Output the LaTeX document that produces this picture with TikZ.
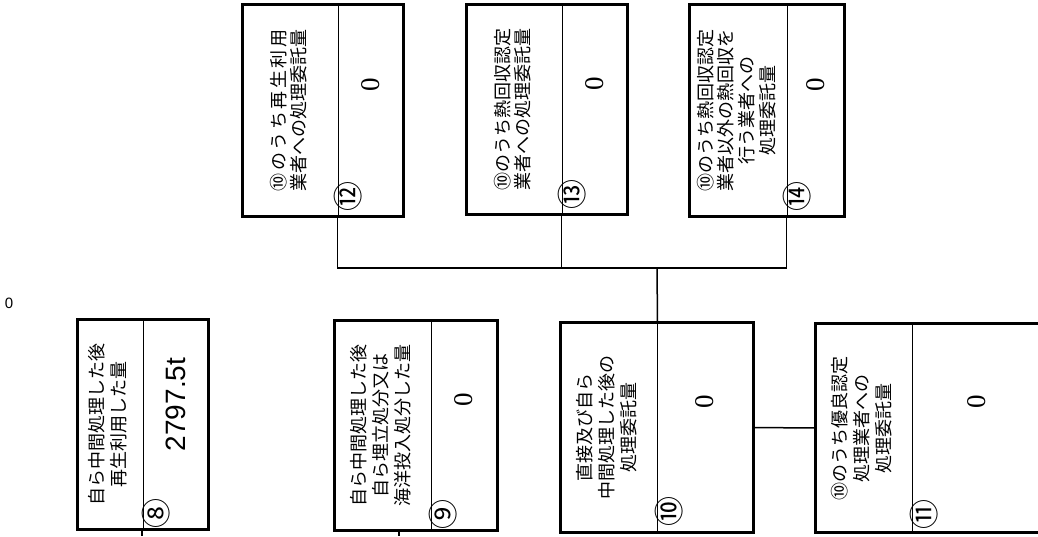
\documentclass[tikz,border=0pt]{standalone}
\usepackage{fontspec}
\setmainfont{Liberation Sans}
\newfontfamily\jpfont{Noto Sans CJK JP}
\newfontfamily\numfont{Liberation Serif}
\usetikzlibrary{positioning}
\tikzset{
  part/.style={draw,line width=1pt,inner sep=0pt},
  frame/.style={draw,line width=2.2pt},
  wire/.style={draw,line width=1.5pt},
  circnum/.style={rotate=90,anchor=west,inner sep=0pt,font=\jpfont\fontsize{30}{30}\selectfont},
}
% rotated label lines, #1 = line pitch
\newcommand{\vlines}[2][22]{\rotatebox{90}{\jpfont\fontsize{18}{#1}\selectfont\begin{tabular}{@{}c@{}}#2\end{tabular}}}
\newcommand{\vnum}[1]{\rotatebox{90}{\numfont\fontsize{27}{27}\selectfont\hspace*{52pt}#1}}

\begin{document}
\begin{tikzpicture}[x=1pt,y=-1pt]
  \useasboundingbox (0,0) rectangle (1038,536);
  \clip (0,0) rectangle (1038,536);

  % upper row
  \node[part,minimum width=95pt,minimum height=211pt] (lab12) at (290.5,110.5)
    {\vlines[17]{\makebox[9em][s]{⑩\hfil の\hfil う\hfil ち\hfil 再\hfil 生\hfil 利\hfil 用}\\業者への処理委託量}};
  \node[part,minimum width=65pt,minimum height=211pt] (val12) at (370.5,110.5) {\vnum{0}};
  \node[part,minimum width=95pt,minimum height=209pt] (lab13) at (514.5,109.5)
    {\vlines[17]{⑩のうち熱回収認定\\業者への処理委託量}};
  \node[part,minimum width=65pt,minimum height=209pt] (val13) at (594.5,109.5) {\vnum{0}};
  \node[part,minimum width=97pt,minimum height=211pt] (lab14) at (738.5,110.5)
    {\vlines[19]{⑩のうち熱回収認定\\業者以外の熱回収を\\行う業者への\\処理委託量}};
  \node[part,minimum width=57pt,minimum height=211pt] (val14) at (815.5,110.5) {\vnum{0}};

  % lower row
  \node[part,minimum width=65pt,minimum height=209pt] (lab8) at (110.5,424.5)
    {\vlines{自ら中間処理した後\\再生利用した量}};
  \node[part,minimum width=65pt,minimum height=209pt] (val8) at (175.5,424.5)
    {\rotatebox{90}{\fontsize{28}{28}\selectfont\hspace*{40pt}2797.5t}};
  \node[part,minimum width=96pt,minimum height=209pt] (lab9) at (383,425.5)
    {\vlines{自ら中間処理した後\\自ら埋立処分又は\\海洋投入処分した量}};
  \node[part,minimum width=66pt,minimum height=209pt] (val9) at (464,425.5) {\vnum{0}};
  \node[part,minimum width=96pt,minimum height=209pt] (lab10) at (609,427.5)
    {\vlines{直接及び自ら\\中間処理した後の\\処理委託量}};
  \node[part,minimum width=96pt,minimum height=209pt] (val10) at (705,427.5) {\vnum{0}};
  \node[part,minimum width=96pt,minimum height=208pt] (lab11) at (864,428)
    {\vlines{⑩のうち優良認定\\処理業者への\\処理委託量}};
  \node[part,minimum width=129pt,minimum height=208pt] (val11) at (976.5,428) {\vnum{0}};

  \node[font=\fontsize{15}{15}\selectfont,inner sep=0pt] (zero) at (9,303) {0};

  % outer frames and numbers
  \foreach \n in {8,...,14}
    \draw[frame] (lab\n.north west) rectangle (val\n.south east);
  \node[circnum] (c12) at ([xshift=11pt,yshift=5pt]val12.south west) {⑫};
  \node[circnum] (c13) at ([xshift=11pt,yshift=5pt]val13.south west) {⑬};
  \node[circnum] (c14) at ([xshift=11pt,yshift=5pt]val14.south west) {⑭};
  \node[circnum] (c8)  at ([xshift=14pt,yshift=1pt]val8.south west) {⑧};
  \node[circnum] (c9)  at ([xshift=13pt,yshift=1pt]val9.south west) {⑨};
  \node[circnum] (c10) at ([xshift=13pt,yshift=6pt]val10.south west) {⑩};
  \node[circnum] (c11) at ([xshift=13pt,yshift=3pt]val11.south west) {⑪};

  % connectors
  \coordinate (hub) at (657,268);
  \coordinate (out8) at (142,536);
  \coordinate (out9) at (399,536);
  \draw[wire] (val12.south west) |- (hub) -| (val14.south west);
  \draw[wire] (val13.south west) -- (val13.south west |- hub);
  \draw[wire] (hub) -- (lab10.north east);
  \draw[wire] (val10.east) -- (lab11.west);
  \draw[wire] (lab8.south -| out8) -- (out8);
  \draw[wire] (lab9.south -| out9) -- (out9);
\end{tikzpicture}
\end{document}
